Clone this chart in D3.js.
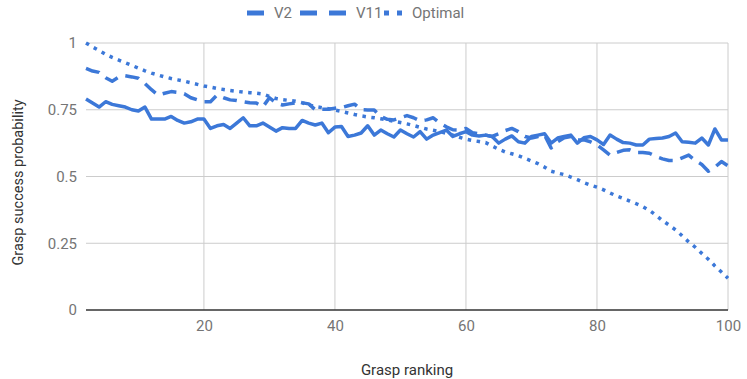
<!DOCTYPE html>
<html>
<head>
<meta charset="utf-8">
<script src="https://cdn.jsdelivr.net/npm/d3@7"></script>
<style>
	body { margin: 0; background: #fff; }
	svg text { font-family: Roboto, "Noto Sans", sans-serif; }
</style>
</head>
<body>
<div id="chart"></div>
<script>
const WIDTH = 747;
const HEIGHT = 379;
const MARGIN = { top: 43, right: 19, bottom: 69, left: 86 };
const BLUE = '#3c78d8';

// grasp ranking runs 2..100 on the axis
const ranks = d3.range(2, 101);
const xTicks = [20, 40, 60, 80, 100];
const yTicks = [0, 0.25, 0.5, 0.75, 1];
const yTickLabels = ['0', '0.25', '0.5', '0.75', '1'];

const v2 = [
	0.79, 0.775, 0.76, 0.78, 0.77, 0.765, 0.76, 0.75, 0.745, 0.76,
	0.715, 0.715, 0.715, 0.725, 0.71, 0.70, 0.705, 0.715, 0.715, 0.68,
	0.69, 0.695, 0.68, 0.70, 0.72, 0.69, 0.69, 0.70, 0.685, 0.67,
	0.683, 0.68, 0.68, 0.71, 0.70, 0.693, 0.70, 0.664, 0.685, 0.687,
	0.65, 0.655, 0.663, 0.69, 0.655, 0.674, 0.66, 0.648, 0.674, 0.66,
	0.648, 0.668, 0.64, 0.655, 0.664, 0.674, 0.65, 0.66, 0.668, 0.655,
	0.652, 0.655, 0.65, 0.625, 0.64, 0.652, 0.63, 0.625, 0.65, 0.655,
	0.66, 0.625, 0.644, 0.65, 0.655, 0.625, 0.645, 0.65, 0.637, 0.62,
	0.655, 0.64, 0.627, 0.625, 0.618, 0.618, 0.64, 0.642, 0.644, 0.65,
	0.663, 0.63, 0.628, 0.625, 0.644, 0.618, 0.678, 0.637, 0.637
];

const v11 = [
	0.905, 0.895, 0.89, 0.87, 0.857, 0.872, 0.877, 0.873, 0.868, 0.848,
	0.825, 0.805, 0.812, 0.818, 0.815, 0.81, 0.795, 0.787, 0.78, 0.78,
	0.805, 0.795, 0.787, 0.785, 0.78, 0.776, 0.775, 0.761, 0.795, 0.775,
	0.768, 0.772, 0.776, 0.776, 0.772, 0.75, 0.752, 0.752, 0.756, 0.758,
	0.765, 0.771, 0.75, 0.749, 0.749, 0.725, 0.714, 0.712, 0.72, 0.728,
	0.72, 0.708, 0.712, 0.72, 0.70, 0.686, 0.675, 0.674, 0.68, 0.664,
	0.66, 0.655, 0.65, 0.66, 0.672, 0.68, 0.668, 0.65, 0.644, 0.65,
	0.655, 0.607, 0.63, 0.645, 0.65, 0.637, 0.637, 0.63, 0.618, 0.60,
	0.58, 0.59, 0.598, 0.60, 0.59, 0.59, 0.587, 0.575, 0.566, 0.56,
	0.56, 0.57, 0.58, 0.56, 0.545, 0.52, 0.535, 0.556, 0.54
];

const optimal = [
	1.0, 0.985, 0.972, 0.958, 0.946, 0.936, 0.926, 0.916, 0.906, 0.896,
	0.887, 0.880, 0.873, 0.867, 0.862, 0.857, 0.851, 0.845, 0.839, 0.835,
	0.830, 0.826, 0.822, 0.819, 0.816, 0.814, 0.812, 0.809, 0.800, 0.792,
	0.788, 0.785, 0.782, 0.776, 0.768, 0.762, 0.758, 0.754, 0.749, 0.744,
	0.738, 0.732, 0.727, 0.723, 0.72, 0.716, 0.712, 0.707, 0.702, 0.697,
	0.691, 0.684, 0.678, 0.673, 0.668, 0.662, 0.655, 0.647, 0.640, 0.635,
	0.631, 0.627, 0.614, 0.602, 0.592, 0.585, 0.578, 0.568, 0.558, 0.548,
	0.535, 0.52, 0.513, 0.507, 0.498, 0.488, 0.477, 0.468, 0.46, 0.45,
	0.438, 0.427, 0.418, 0.408, 0.398, 0.387, 0.373, 0.355, 0.335, 0.318,
	0.30, 0.278, 0.255, 0.235, 0.212, 0.19, 0.165, 0.142, 0.119
];

const seriesNames = ['V2', 'V11', 'Optimal'];
const seriesValues = [v2, v11, optimal];
const seriesDash = [null, '14,8', '3.5,5.5'];

const svg = d3.select('#chart').append('svg')
	.attr('width', WIDTH)
	.attr('height', HEIGHT);

const x = d3.scaleLinear()
	.domain([2, 100])
	.range([MARGIN.left, WIDTH - MARGIN.right]);

const y = d3.scaleLinear()
	.domain([0, 1])
	.range([HEIGHT - MARGIN.bottom, MARGIN.top]);

// grid
const grid = svg.append('g').attr('class', 'grid');
grid.selectAll('line.h')
	.data(yTicks.filter(d => d > 0))
	.enter()
	.append('line')
		.attr('x1', x.range()[0])
		.attr('x2', x.range()[1])
		.attr('y1', d => y(d))
		.attr('y2', d => y(d))
		.attr('stroke', '#cccccc')
		.attr('stroke-width', 1);
grid.selectAll('line.v')
	.data(xTicks)
	.enter()
	.append('line')
		.attr('x1', d => x(d))
		.attr('x2', d => x(d))
		.attr('y1', y(1))
		.attr('y2', y(0))
		.attr('stroke', '#cccccc')
		.attr('stroke-width', 1);

// axes
const xAxis = svg.append('g')
	.attr('transform', 'translate(0,' + y(0) + ')')
	.call(d3.axisBottom(x).tickValues(xTicks).tickSize(0).tickPadding(10));
xAxis.select('.domain').remove();
xAxis.selectAll('text').attr('fill', '#757575').style('font-size', '15px');

const yAxis = svg.append('g')
	.attr('transform', 'translate(' + MARGIN.left + ',0)')
	.call(d3.axisLeft(y).tickValues(yTicks).tickSize(0).tickPadding(9)
		.tickFormat((d, i) => yTickLabels[i]));
yAxis.select('.domain').remove();
yAxis.selectAll('text').attr('fill', '#757575').style('font-size', '15px');

// baseline
svg.append('line')
	.attr('x1', x.range()[0])
	.attr('x2', x.range()[1])
	.attr('y1', y(0))
	.attr('y2', y(0))
	.attr('stroke', '#333333')
	.attr('stroke-width', 1.5);

// lines
const line = d3.line()
	.x((d, i) => x(ranks[i]))
	.y(d => y(d));

seriesValues.forEach((values, i) => {
	svg.append('path')
		.datum(values)
		.attr('fill', 'none')
		.attr('stroke', BLUE)
		.attr('stroke-width', 3.5)
		.attr('stroke-linejoin', 'round')
		.attr('stroke-dasharray', seriesDash[i])
		.attr('d', line);
});

// axis titles
svg.append('text')
	.attr('x', (x.range()[0] + x.range()[1]) / 2)
	.attr('y', 375)
	.attr('text-anchor', 'middle')
	.attr('fill', '#333333')
	.style('font-size', '15px')
	.text('Grasp ranking');

svg.append('text')
	.attr('transform', 'translate(23,' + ((y(0) + y(1)) / 2 + 6) + ') rotate(-90)')
	.attr('text-anchor', 'middle')
	.attr('fill', '#333333')
	.style('font-size', '14.5px')
	.text('Grasp success probability');

// legend
const legendItems = [
	{ name: seriesNames[0], x: 247, w: 17 },
	{ name: seriesNames[1], x: 300, w: 46 },
	{ name: seriesNames[2], x: 384, w: 18 }
];
const legend = svg.append('g').attr('class', 'legend');
legendItems.forEach((item, i) => {
	legend.append('line')
		.attr('x1', item.x)
		.attr('x2', item.x + item.w)
		.attr('y1', 13)
		.attr('y2', 13)
		.attr('stroke', BLUE)
		.attr('stroke-width', 5)
		.attr('stroke-dasharray', i === 1 ? '17,12' : (i === 2 ? '5,8' : null));
	legend.append('text')
		.attr('x', item.x + item.w + 10)
		.attr('y', 18)
		.attr('fill', '#757575')
		.style('font-size', '15px')
		.text(item.name);
});
</script>
</body>
</html>
